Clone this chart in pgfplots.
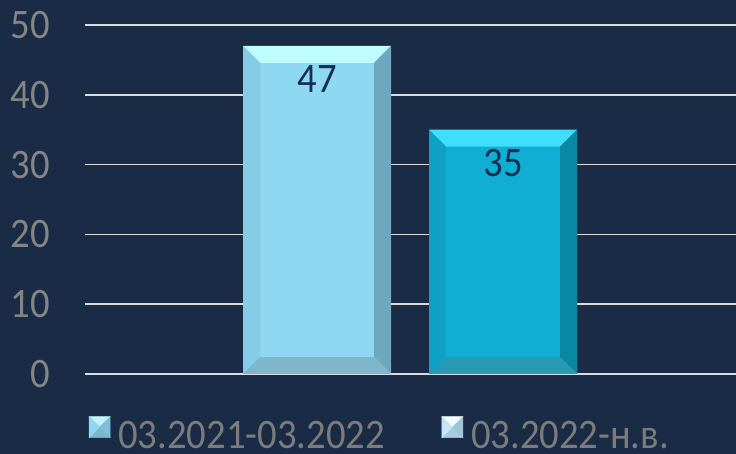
\documentclass[border=0pt]{standalone}
\usepackage{pgfplots}
\pgfplotsset{compat=1.18}
\usepackage{fontspec}
\setmainfont{Carlito}
\newfontfamily\nf[FakeStretch=0.92]{Carlito}
\definecolor{bg}{HTML}{1A2B45}
\definecolor{gridc}{HTML}{DCDCDC}
\definecolor{tickc}{HTML}{858585}
\definecolor{legc}{HTML}{7C7C7C}
\definecolor{labc}{HTML}{142F52}
\definecolor{aface}{HTML}{8FD8F4}
\definecolor{atop}{HTML}{BFFCFF}
\definecolor{aleft}{HTML}{85CDE6}
\definecolor{aright}{HTML}{6EA8BE}
\definecolor{abot}{HTML}{80B6CB}
\definecolor{bface}{HTML}{11AED3}
\definecolor{btop}{HTML}{3FDEFE}
\definecolor{bleft}{HTML}{0FA0C5}
\definecolor{bright}{HTML}{0A88A3}
\definecolor{bbot}{HTML}{2998B3}
\definecolor{mat}{HTML}{BDF2FF}
\definecolor{mal}{HTML}{8FD6F0}
\definecolor{mar}{HTML}{7FC0D8}
\definecolor{mab}{HTML}{7DB5CA}
\definecolor{mbt}{HTML}{F2FBFF}
\definecolor{mbl}{HTML}{C5E6F5}
\definecolor{mbr}{HTML}{A0C6D8}
\definecolor{mbb}{HTML}{A6CCDC}
\begin{document}
\begin{tikzpicture}
\useasboundingbox (0,0) rectangle (736bp,454bp);
\fill[bg] (0,0) rectangle (736bp,454bp);
\begin{axis}[
  at={(85bp,80bp)}, anchor=south west,
  scale only axis, width=651bp, height=349bp,
  xmin=85, xmax=736, ymin=0, ymax=50,
  ytick={0,10,20,30,40,50}, xtick=\empty,
  ymajorgrids, major grid style={draw=gridc, line width=1.6bp},
  axis line style={draw=none}, major tick length=0pt,
  tick label style={font=\nf\fontsize{42bp}{44bp}\selectfont, text=tickc},
  yticklabel style={inner sep=0pt, xshift=-35bp},
  /pgf/number format/assume math mode=true,
  legend style={draw=none, fill=none, inner sep=0pt, outer sep=0pt,
    at={(axis description cs:0.00614,-0.2177)}, anchor=south west,
    legend columns=2, font=\nf\fontsize{42bp}{44bp}\selectfont, text=legc,
    nodes={inner sep=0pt},
    /tikz/every odd column/.append style={column sep=8bp},
    /tikz/every even column/.append style={column sep=57bp}},
  legend cell align=left,
]
% bar 1 (47)
\addplot[ybar, bar shift=0pt, bar width=148, fill=aface, draw=none, forget plot,
  nodes near coords,
  every node near coord/.append style={font=\nf\fontsize{42bp}{44bp}\selectfont, text=labc, anchor=center, yshift=-33.5bp}]
  coordinates {(317,47)};
\addplot[fill=atop, draw=none, forget plot] coordinates {(243,47) (391,47) (374,44.565) (260,44.565)} -- cycle;
\addplot[fill=aleft, draw=none, forget plot] coordinates {(243,0) (243,47) (260,44.565) (260,2.435)} -- cycle;
\addplot[fill=aright, draw=none, forget plot] coordinates {(391,0) (391,47) (374,44.565) (374,2.435)} -- cycle;
\addplot[fill=abot, draw=none, forget plot] coordinates {(243,0) (391,0) (374,2.435) (260,2.435)} -- cycle;
% bar 2 (35)
\addplot[ybar, bar shift=0pt, bar width=148, fill=bface, draw=none, forget plot,
  nodes near coords,
  every node near coord/.append style={font=\nf\fontsize{42bp}{44bp}\selectfont, text=labc, anchor=center, yshift=-33.5bp}]
  coordinates {(503,35)};
\addplot[fill=btop, draw=none, forget plot] coordinates {(429,35) (577,35) (560,32.565) (446,32.565)} -- cycle;
\addplot[fill=bleft, draw=none, forget plot] coordinates {(429,0) (429,35) (446,32.565) (446,2.435)} -- cycle;
\addplot[fill=bright, draw=none, forget plot] coordinates {(577,0) (577,35) (560,32.565) (560,2.435)} -- cycle;
\addplot[fill=bbot, draw=none, forget plot] coordinates {(429,0) (577,0) (560,2.435) (446,2.435)} -- cycle;
% legend
\addlegendimage{legend image code/.code={
  \fill[mab] (0,-2bp) -- (21bp,-2bp) -- (10.5bp,8.5bp) -- cycle;
  \fill[mat] (0,19bp) -- (21bp,19bp) -- (10.5bp,8.5bp) -- cycle;
  \fill[mal] (0,-2bp) -- (0,19bp) -- (10.5bp,8.5bp) -- cycle;
  \fill[mar] (21bp,-2bp) -- (21bp,19bp) -- (10.5bp,8.5bp) -- cycle;}}
\addlegendentry{03.2021-03.2022}
\addlegendimage{legend image code/.code={
  \fill[mbb] (0,-2bp) -- (21bp,-2bp) -- (10.5bp,8.5bp) -- cycle;
  \fill[mbt] (0,19bp) -- (21bp,19bp) -- (10.5bp,8.5bp) -- cycle;
  \fill[mbl] (0,-2bp) -- (0,19bp) -- (10.5bp,8.5bp) -- cycle;
  \fill[mbr] (21bp,-2bp) -- (21bp,19bp) -- (10.5bp,8.5bp) -- cycle;}}
\addlegendentry{03.2022-н.в.}
\end{axis}
\end{tikzpicture}
\end{document}
